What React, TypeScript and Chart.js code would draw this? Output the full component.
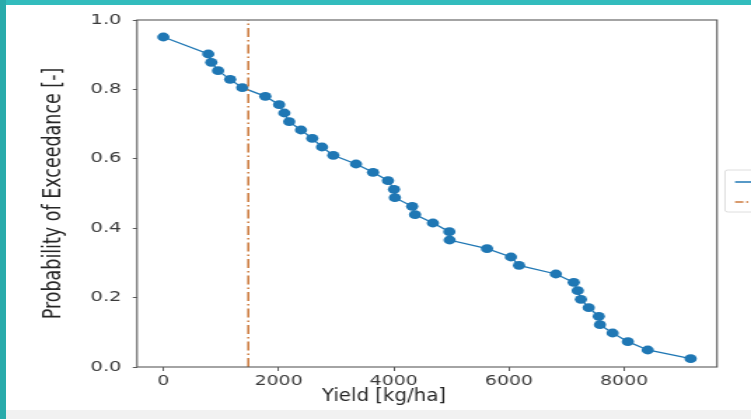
import React, { useEffect, useRef } from 'react';
import { Chart, registerables } from 'chart.js';

Chart.register(...registerables);

// ---- data ----
const yieldValues = [
  0, 780, 832, 950, 1160, 1370, 1770, 2010, 2100, 2185, 2390, 2585, 2755, 2950,
  3345, 3640, 3900, 4005, 4020, 4320, 4370, 4680, 4965, 4970, 5620, 6035, 6175,
  6815, 7125, 7195, 7250, 7385, 7560, 7580, 7800, 8065, 8410, 9155,
];
const exceedance = [
  0.951, 0.902, 0.878, 0.854, 0.829, 0.805, 0.78, 0.756, 0.732, 0.707, 0.683,
  0.659, 0.634, 0.61, 0.585, 0.561, 0.537, 0.512, 0.488, 0.463, 0.439, 0.415,
  0.39, 0.366, 0.341, 0.317, 0.293, 0.268, 0.244, 0.22, 0.195, 0.171, 0.146,
  0.122, 0.098, 0.073, 0.049, 0.024,
];
const thresholdYield = 1475;
const probLimits = [0, 1];
const xTickValues = [0, 2000, 4000, 6000, 8000];
const yTickStep = 0.2;
const xTitle = 'Yield [kg/ha]';
const yTitle = 'Probability of Exceedance [-]';

// ---- layout (logical canvas is stretched horizontally like the reference) ----
const PAGE_W = 751;
const PAGE_H = 419;
const LOGICAL_W = 536;
const SX = PAGE_W / LOGICAL_W;
const BLUE = '#1f77b4';
const ORANGE = '#cc7a3e';
const FONT = "'DejaVu Sans', sans-serif";

const boxPlugin = {
  id: 'boxPlugin',
  afterDraw(chart: any) {
    const { ctx, chartArea: a } = chart;
    ctx.save();
    ctx.strokeStyle = '#5a5a5a';
    ctx.lineWidth = 1.1;
    ctx.strokeRect(a.left, a.top, a.right - a.left, a.bottom - a.top);

    // x axis title (taller glyphs, narrower spread, as in the reference)
    ctx.save();
    ctx.fillStyle = '#262626';
    ctx.font = `17px ${FONT}`;
    ctx.textAlign = 'center';
    ctx.textBaseline = 'middle';
    ctx.translate(384 / SX, 397);
    ctx.scale(0.83, 1);
    ctx.fillText(xTitle, 0, 0);
    ctx.restore();

    // legend (mostly cut off on the right, as in the reference)
    const lx = 725 / SX;
    const ly = 170;
    ctx.fillStyle = 'rgba(255,255,255,0.9)';
    ctx.strokeStyle = '#d6d6d6';
    ctx.lineWidth = 0.8;
    ctx.beginPath();
    ctx.roundRect(lx, ly, 60, 42, 2);
    ctx.fill();
    ctx.stroke();
    ctx.lineWidth = 1.5;
    ctx.strokeStyle = BLUE;
    ctx.beginPath();
    ctx.moveTo(735 / SX, 182);
    ctx.lineTo(LOGICAL_W + 5, 182);
    ctx.stroke();
    ctx.strokeStyle = ORANGE;
    ctx.setLineDash([6, 2, 1.5, 2]);
    ctx.beginPath();
    ctx.moveTo(735 / SX, 202);
    ctx.lineTo(LOGICAL_W + 5, 202);
    ctx.stroke();
    ctx.restore();
  },
};

export default function App() {
  const ref = useRef<HTMLCanvasElement | null>(null);

  useEffect(() => {
    if (!ref.current) return;
    const xmin = Math.min(...yieldValues);
    const xmax = Math.max(...yieldValues);
    const margin = (xmax - xmin) * 0.05;

    const chart = new Chart(ref.current, {
      type: 'line',
      data: {
        datasets: [
          {
            label: 'Yield',
            data: yieldValues.map((v, i) => ({ x: v, y: exceedance[i] })),
            borderColor: BLUE,
            backgroundColor: BLUE,
            borderWidth: 1.3,
            pointRadius: 4.4,
            pointBorderWidth: 0,
            pointBackgroundColor: BLUE,
            tension: 0,
            order: 1,
          },
          {
            label: 'Threshold',
            data: [
              { x: thresholdYield, y: probLimits[0] },
              { x: thresholdYield, y: probLimits[1] },
            ],
            borderColor: ORANGE,
            borderWidth: 1.6,
            borderDash: [9, 3, 1.5, 3],
            pointRadius: 0,
            order: 0,
          },
        ],
      },
      options: {
        animation: false,
        responsive: false,
        devicePixelRatio: 1,
        layout: { padding: { top: 20, right: LOGICAL_W - 717 / SX, left: 0, bottom: 0 } },
        plugins: { legend: { display: false }, tooltip: { enabled: false } },
        scales: {
          x: {
            type: 'linear',
            min: xmin - margin,
            max: xmax + margin,
            afterBuildTicks: (s: any) => {
              s.ticks = xTickValues.map((v) => ({ value: v }));
            },
            afterFit: (s: any) => {
              s.height = PAGE_H - 367;
            },
            grid: { drawOnChartArea: false, drawTicks: true, tickLength: 4, color: '#5a5a5a' },
            border: { display: false },
            ticks: {
              callback: (v: any) => String(v),
              color: '#3a3a3a',
              padding: 2,
              maxRotation: 0,
              autoSkip: false,
              font: { family: FONT, size: 13.5 },
            },
            title: { display: false },
          },
          y: {
            type: 'linear',
            min: probLimits[0],
            max: probLimits[1],
            afterFit: (s: any) => {
              s.width = 137 / SX;
            },
            grid: { drawOnChartArea: false, drawTicks: true, tickLength: 3, color: '#5a5a5a' },
            border: { display: false },
            ticks: {
              stepSize: yTickStep,
              callback: (v: any) => Number(v).toFixed(1),
              color: '#3a3a3a',
              padding: 8,
              font: { family: FONT, size: 14 },
            },
            title: {
              display: true,
              text: yTitle,
              color: '#262626',
              font: { family: FONT, size: 17.5 },
              padding: { top: 27.5, bottom: 0 },
            },
          },
        },
      },
      plugins: [boxPlugin],
    } as any);
    return () => chart.destroy();
  }, []);

  return (
    <div
      style={{
        position: 'fixed',
        left: 0,
        top: 0,
        width: PAGE_W,
        height: PAGE_H,
        overflow: 'hidden',
        background: '#ffffff',
      }}
    >
      <canvas
        ref={ref}
        width={LOGICAL_W}
        height={PAGE_H}
        style={{ position: 'absolute', left: 0, top: 0, width: PAGE_W, height: PAGE_H }}
      />
      <div style={{ position: 'absolute', left: 0, top: 0, width: PAGE_W, height: 5, background: '#32bcbd' }} />
      <div style={{ position: 'absolute', left: 0, top: 0, width: 6, height: PAGE_H, background: '#29abab' }} />
      <div style={{ position: 'absolute', left: 6, top: 410, width: PAGE_W - 6, height: PAGE_H - 410, background: '#f1f1f1' }} />
    </div>
  );
}
